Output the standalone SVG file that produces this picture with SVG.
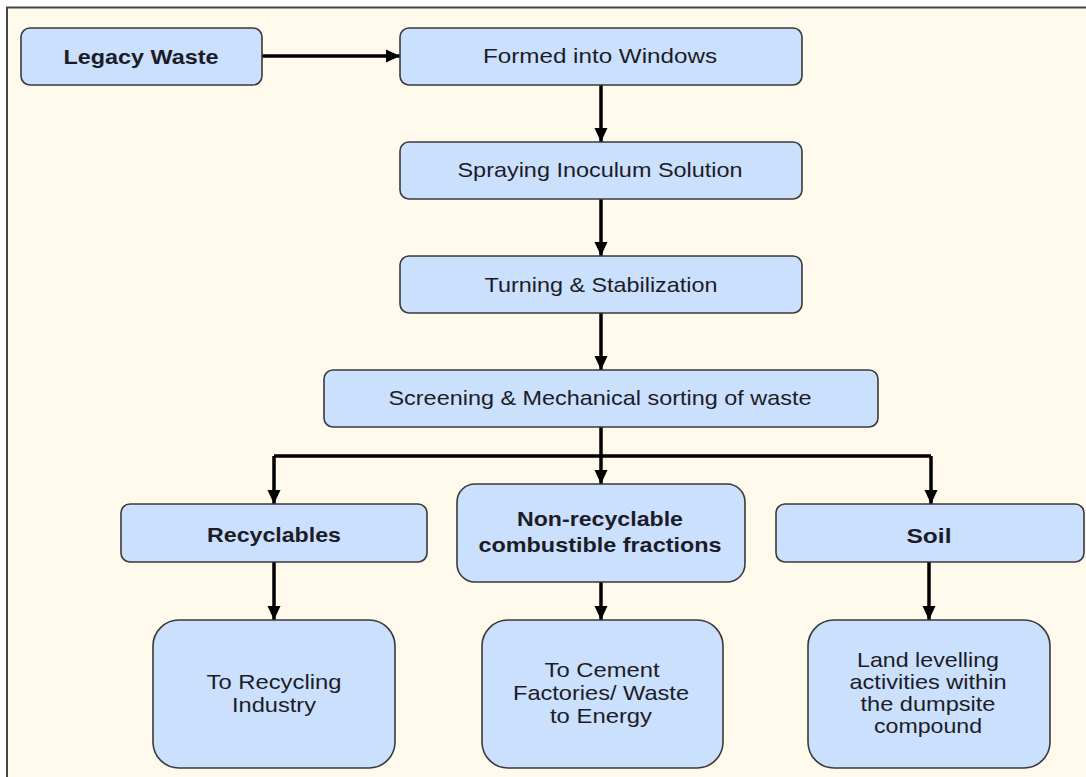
<svg xmlns="http://www.w3.org/2000/svg" width="1086" height="777" viewBox="0 0 1086 777">
  <style>
    .box { fill: #cbe0fd; stroke: #3a3a3a; stroke-width: 1.6; }
    .t { font-family: "Liberation Sans", Arial, sans-serif; font-size: 21px; fill: #1c1c28; text-anchor: middle; }
    .b { font-weight: bold; }
    .c { fill: none; stroke: #000; stroke-width: 3.5; }
  </style>
  <defs>
    <marker id="ah" markerUnits="userSpaceOnUse" markerWidth="14" markerHeight="14" refX="14" refY="7" orient="auto">
      <path d="M0,0.5 L14,7 L0,13.5 z" fill="#000"/>
    </marker>
  </defs>
  <rect x="0" y="0" width="1086" height="777" fill="#ffffff"/>
  <rect x="8" y="8" width="1078" height="769" fill="#fffaec"/>
  <path d="M7,777 L7,7.5 L1086,7.5" fill="none" stroke="#444" stroke-width="2"/>

  <g id="connectors">
    <line class="c" x1="262" y1="56" x2="400" y2="56" marker-end="url(#ah)"/>
    <line class="c" x1="601" y1="85" x2="601" y2="142" marker-end="url(#ah)"/>
    <line class="c" x1="601" y1="199" x2="601" y2="256" marker-end="url(#ah)"/>
    <line class="c" x1="601" y1="313" x2="601" y2="370" marker-end="url(#ah)"/>
    <path class="c" d="M601,427 L601,456 M274,456 L931,456"/>
    <path class="c" d="M274,456 L274,504" marker-end="url(#ah)"/>
    <path class="c" d="M931,456 L931,504" marker-end="url(#ah)"/>
    <line class="c" x1="601" y1="456" x2="601" y2="484" marker-end="url(#ah)"/>
    <line class="c" x1="274" y1="562" x2="274" y2="620" marker-end="url(#ah)"/>
    <line class="c" x1="601" y1="582" x2="601" y2="620" marker-end="url(#ah)"/>
    <line class="c" x1="929" y1="562" x2="929" y2="620" marker-end="url(#ah)"/>
  </g>

  <g id="legacy">
    <rect class="box" x="21" y="28" width="241" height="57" rx="9"/>
    <text class="t b" x="141" y="64" textLength="155" lengthAdjust="spacingAndGlyphs">Legacy Waste</text>
  </g>
  <g id="windrows">
    <rect class="box" x="400" y="28" width="402" height="57" rx="9"/>
    <text class="t" x="600" y="63" textLength="234" lengthAdjust="spacingAndGlyphs">Formed into Windows</text>
  </g>
  <g id="spraying">
    <rect class="box" x="400" y="142" width="402" height="57" rx="9"/>
    <text class="t" x="600" y="177" textLength="285" lengthAdjust="spacingAndGlyphs">Spraying Inoculum Solution</text>
  </g>
  <g id="turning">
    <rect class="box" x="400" y="256" width="402" height="57" rx="9"/>
    <text class="t" x="601" y="292" textLength="233" lengthAdjust="spacingAndGlyphs">Turning &amp; Stabilization</text>
  </g>
  <g id="screening">
    <rect class="box" x="324" y="370" width="554" height="57" rx="9"/>
    <text class="t" x="600" y="405" textLength="423" lengthAdjust="spacingAndGlyphs">Screening &amp; Mechanical sorting of waste</text>
  </g>
  <g id="recyclables">
    <rect class="box" x="121" y="504" width="306" height="58" rx="9"/>
    <text class="t b" x="274" y="542" textLength="134" lengthAdjust="spacingAndGlyphs">Recyclables</text>
  </g>
  <g id="nonrecyclable">
    <rect class="box" x="457" y="484" width="288" height="98" rx="18"/>
    <text class="t b" x="600" y="526" textLength="166" lengthAdjust="spacingAndGlyphs">Non-recyclable</text>
    <text class="t b" x="600" y="552" textLength="243" lengthAdjust="spacingAndGlyphs">combustible fractions</text>
  </g>
  <g id="soil">
    <rect class="box" x="776" y="504" width="308" height="58" rx="9"/>
    <text class="t b" x="929" y="543" textLength="45" lengthAdjust="spacingAndGlyphs">Soil</text>
  </g>
  <g id="recycling">
    <rect class="box" x="153" y="620" width="242" height="148" rx="26"/>
    <text class="t" x="274" y="689" textLength="135" lengthAdjust="spacingAndGlyphs">To Recycling</text>
    <text class="t" x="274" y="712" textLength="84" lengthAdjust="spacingAndGlyphs">Industry</text>
  </g>
  <g id="cement">
    <rect class="box" x="482" y="620" width="241" height="148" rx="26"/>
    <text class="t" x="602" y="677" textLength="115" lengthAdjust="spacingAndGlyphs">To Cement</text>
    <text class="t" x="601" y="700" textLength="176" lengthAdjust="spacingAndGlyphs">Factories/ Waste</text>
    <text class="t" x="601" y="723" textLength="102" lengthAdjust="spacingAndGlyphs">to Energy</text>
  </g>
  <g id="land">
    <rect class="box" x="808" y="620" width="242" height="148" rx="26"/>
    <text class="t" x="928" y="667" textLength="142" lengthAdjust="spacingAndGlyphs">Land levelling</text>
    <text class="t" x="928" y="689" textLength="157" lengthAdjust="spacingAndGlyphs">activities within</text>
    <text class="t" x="928" y="711" textLength="135" lengthAdjust="spacingAndGlyphs">the dumpsite</text>
    <text class="t" x="928" y="733" textLength="108" lengthAdjust="spacingAndGlyphs">compound</text>
  </g>
</svg>
